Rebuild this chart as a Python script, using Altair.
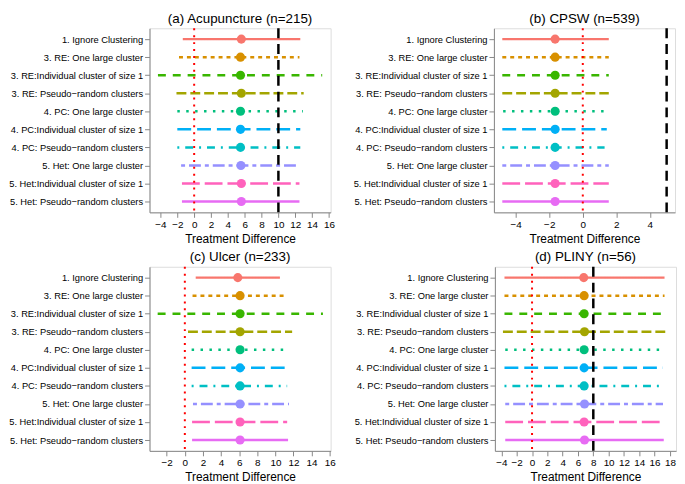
import altair as alt
import pandas as pd

methods = [
    "1. Ignore Clustering",
    "3. RE: One large cluster",
    "3. RE:Individual cluster of size 1",
    "3. RE: Pseudo\u2212random clusters",
    "4. PC: One large cluster",
    "4. PC:Individual cluster of size 1",
    "4. PC: Pseudo\u2212random clusters",
    "5. Het: One large cluster",
    "5. Het:Individual cluster of size 1",
    "5. Het: Pseudo\u2212random clusters",
]
colors = ["#F8766D", "#D89000", "#39B600", "#A3A500", "#00BF7D",
          "#00B0F6", "#00BFC4", "#9590FF", "#FF62BC", "#E76BF3"]
dashes = [[1, 0], [4, 4], [8, 7], [10, 4], [2.5, 6.5],
          [14, 6], [2, 6, 8, 6], [4, 4, 12, 4], [18, 5], [1, 0]]

# (a) Acupuncture
est_a = [5.6, 5.5, 5.5, 5.6, 5.5, 5.5, 5.5, 5.55, 5.6, 5.6]
lo_a = [-1.35, -1.8, -4.3, -2.1, -2.0, -2.0, -2.0, -1.55, -1.45, -1.45]
hi_a = [12.6, 12.5, 15.2, 13.0, 12.9, 12.6, 12.6, 12.5, 12.5, 12.5]
# (b) CPSW
est_b = [-1.65, -1.65, -1.65, -1.65, -1.65, -1.65, -1.65, -1.65, -1.65, -1.65]
lo_b = [-4.8, -4.8, -4.8, -4.8, -4.75, -4.8, -4.8, -4.8, -4.8, -4.8]
hi_b = [1.55, 1.55, 1.55, 1.55, 1.43, 1.43, 1.3, 1.55, 1.55, 1.55]
# (c) Ulcer
est_c = [5.85, 6.1, 6.1, 6.1, 6.1, 6.1, 6.1, 6.1, 6.1, 6.1]
lo_c = [1.2, 0.85, -3.0, 0.35, 0.75, 0.75, 0.75, 0.9, 0.8, 0.8]
hi_c = [10.5, 11.1, 15.25, 11.85, 11.5, 11.5, 11.3, 11.5, 11.3, 11.4]
# (d) PLINY
est_d = [6.75, 6.8, 6.8, 6.85, 6.8, 6.8, 6.8, 6.85, 6.8, 6.85]
lo_d = [-3.6, -3.6, -3.6, -3.8, -3.5, -3.6, -3.6, -3.5, -3.5, -3.5]
hi_d = [17.3, 17.3, 17.3, 17.75, 17.3, 17.1, 17.3, 17.1, 17.2, 17.2]

titles = ["(a) Acupuncture (n=215)", "(b) CPSW (n=539)", "(c) Ulcer (n=233)", "(d) PLINY (n=56)"]
domains = [[-5.3, 16.2], [-5.3, 5.5], [-3.9, 16.1], [-4.85, 18.8]]
ticks = [list(range(-4, 17, 2)), [-4, -2, 0, 2, 4], list(range(-2, 17, 2)), list(range(-4, 19, 2))]
ref_lines = [[10], [5], [], [8]]

FONT = "Liberation Sans"
W, H = 183, 186


def panel(title, est, lo, hi, domain, tick_vals, refs):
    df = pd.DataFrame({"method": methods, "est": est, "lo": lo, "hi": hi})
    xscale = alt.Scale(domain=domain, nice=False, zero=False)
    xaxis = alt.Axis(values=tick_vals, title="Treatment Difference", labelOverlap=False,
                     labelFlush=False, format="d", titleFontWeight="normal", grid=False,
                     titleFontSize=12, titleFont=FONT, titleColor="black")
    y = alt.Y("method:N", sort=methods, scale=alt.Scale(type="point", padding=0.6),
              axis=alt.Axis(title=None, labelLimit=300, labelFontSize=9.4, grid=False))
    color = alt.Color("method:N", scale=alt.Scale(domain=methods, range=colors), legend=None)
    dash = alt.StrokeDash("method:N", scale=alt.Scale(domain=methods, range=dashes), legend=None)
    bars = alt.Chart(df).mark_rule(strokeWidth=2.5).encode(
        x=alt.X("lo:Q", scale=xscale, axis=xaxis), x2="hi:Q", y=y, color=color, strokeDash=dash)
    pts = alt.Chart(df).mark_circle(size=85, opacity=1).encode(
        x=alt.X("est:Q", scale=xscale, axis=xaxis), y=y, color=color)
    zero = alt.Chart(pd.DataFrame({"v": [0]})).mark_rule(
        color="#FF0000", strokeDash=[2, 5], strokeWidth=2).encode(x=alt.X("v:Q", scale=xscale, axis=xaxis))
    layers = [bars, pts, zero]
    if refs:
        ref = alt.Chart(pd.DataFrame({"v": refs})).mark_rule(
            color="black", strokeDash=[10, 6], strokeWidth=2.5).encode(x=alt.X("v:Q", scale=xscale, axis=xaxis))
        layers.append(ref)
    return alt.layer(*layers).properties(
        width=W, height=H,
        title=alt.TitleParams(title, fontSize=13.5, fontWeight="normal", anchor="middle",
                              offset=2, font=FONT, color="black"))


charts = [panel(titles[i], (est_a, est_b, est_c, est_d)[i], (lo_a, lo_b, lo_c, lo_d)[i],
                (hi_a, hi_b, hi_c, hi_d)[i], domains[i], ticks[i], ref_lines[i])
          for i in range(4)]

chart = alt.vconcat(
    alt.hconcat(charts[0], charts[1], spacing=17),
    alt.hconcat(charts[2], charts[3], spacing=17),
    spacing=4,
).properties(padding=0).configure_view(stroke=None).configure_axis(
    grid=False, domainColor="black", domainWidth=1.2, tickColor="#333333", tickSize=4,
    tickWidth=1.1, labelFont=FONT, labelFontSize=9.5, labelColor="#4D4D4D", labelPadding=2,
    titleFont=FONT, titleFontSize=12, titleFontWeight="normal", titleColor="black", titlePadding=1,
).configure(font=FONT)

chart.save("out.html", embed_options={"renderer": "svg", "actions": False})
